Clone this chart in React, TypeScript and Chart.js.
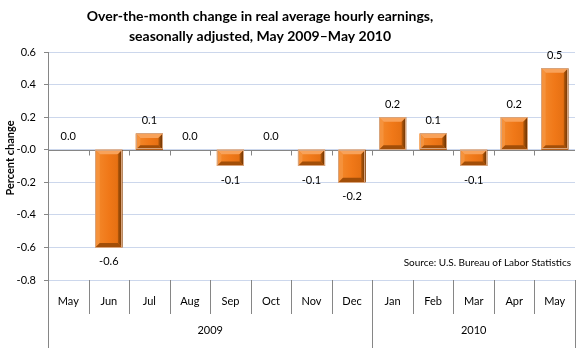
import React, { useEffect, useRef } from "react";
import { Chart, registerables } from "chart.js";

Chart.register(...registerables);

const months = ["May", "Jun", "Jul", "Aug", "Sep", "Oct", "Nov", "Dec", "Jan", "Feb", "Mar", "Apr", "May"];
const years = ["2009", "2010"];
const yearSpans = [8, 5];
const changes = [0.0, -0.6, 0.1, 0.0, -0.1, 0.0, -0.1, -0.2, 0.2, 0.1, -0.1, 0.2, 0.5];
const yMin = -0.8;
const yMax = 0.6;
const yStep = 0.2;
const titleLines = [
  "Over-the-month change in real average hourly earnings,",
  "seasonally adjusted, May 2009\u2013May 2010",
];
const yTitle = "Percent change";
const sourceText = "Source: U.S. Bureau of Labor Statistics";

const FONT = "Lato, 'Open Sans', sans-serif";

const decorPlugin = {
  id: "decor",
  beforeDatasetsDraw(chart: any) {
    const { ctx, chartArea } = chart;
    const ys = chart.scales.y;
    const xs = chart.scales.x;
    const y0 = Math.round(ys.getPixelForValue(0)) + 0.5;
    ctx.save();
    ctx.strokeStyle = "#868686";
    ctx.lineWidth = 1;
    ctx.beginPath();
    ctx.moveTo(chartArea.left, y0);
    ctx.lineTo(chartArea.right, y0);
    for (let i = 1; i < months.length; i++) {
      const bx = Math.round((xs.getPixelForValue(i - 1) + xs.getPixelForValue(i)) / 2) + 0.5;
      ctx.moveTo(bx, y0);
      ctx.lineTo(bx, y0 + 5);
    }
    ctx.stroke();
    ctx.restore();
  },
  afterDatasetsDraw(chart: any) {
    const { ctx } = chart;
    const meta = chart.getDatasetMeta(0);
    ctx.save();
    meta.data.forEach((bar: any) => {
      const p = bar.getProps(["x", "y", "base", "width"], true);
      const l = p.x - p.width / 2;
      const r = p.x + p.width / 2;
      const t = Math.min(p.y, p.base);
      const btm = Math.max(p.y, p.base);
      const h = btm - t;
      if (h < 1) return;
      const b = Math.min(4.5, h / 3);
      const face = ctx.createLinearGradient(l, 0, r, 0);
      face.addColorStop(0, "#F48A2C");
      face.addColorStop(0.5, "#F07818");
      face.addColorStop(1, "#E06C10");
      ctx.fillStyle = face;
      ctx.fillRect(l, t, r - l, h);
      ctx.fillStyle = "#F8A25A";
      ctx.beginPath();
      ctx.moveTo(l, t); ctx.lineTo(r, t); ctx.lineTo(r - b, t + b); ctx.lineTo(l + b, t + b);
      ctx.closePath(); ctx.fill();
      ctx.fillStyle = "#F5923C";
      ctx.beginPath();
      ctx.moveTo(l, t); ctx.lineTo(l + b, t + b); ctx.lineTo(l + b, btm - b); ctx.lineTo(l, btm);
      ctx.closePath(); ctx.fill();
      const rg = ctx.createLinearGradient(r - b, 0, r, 0);
      rg.addColorStop(0, "#B85A0A");
      rg.addColorStop(1, "#5E2E04");
      ctx.fillStyle = rg;
      ctx.beginPath();
      ctx.moveTo(r, t); ctx.lineTo(r, btm); ctx.lineTo(r - b, btm - b); ctx.lineTo(r - b, t + b);
      ctx.closePath(); ctx.fill();
      ctx.fillStyle = "#A24E08";
      ctx.beginPath();
      ctx.moveTo(l, btm); ctx.lineTo(r, btm); ctx.lineTo(r - b, btm - b); ctx.lineTo(l + b, btm - b);
      ctx.closePath(); ctx.fill();
      ctx.strokeStyle = "#D8A47C";
      ctx.lineWidth = 1;
      ctx.strokeRect(Math.round(l) + 0.5, Math.round(t) + 0.5, Math.round(r - l) - 1, Math.round(h) - 1);
    });
    ctx.restore();
  },
  afterDraw(chart: any) {
    const { ctx, chartArea } = chart;
    const xs = chart.scales.x;
    const meta = chart.getDatasetMeta(0);
    ctx.save();
    ctx.fillStyle = "#000";
    ctx.font = `11px ${FONT}`;
    ctx.textAlign = "center";
    ctx.textBaseline = "middle";
    meta.data.forEach((bar: any, i: number) => {
      const v = changes[i];
      const p = bar.getProps(["x", "y", "base"], true);
      const label = v.toFixed(1);
      if (v >= 0) ctx.fillText(label, p.x, Math.min(p.y, p.base) - 13);
      else ctx.fillText(label, p.x, Math.max(p.y, p.base) + 14);
    });
    ctx.font = `10px ${FONT}`;
    ctx.textAlign = "right";
    ctx.fillText(sourceText, chartArea.right - 4, 263);
    const top = chartArea.bottom;
    const bound = (i: number) => {
      if (i <= 0) return chartArea.left;
      if (i >= months.length) return chartArea.right;
      return (xs.getPixelForValue(i - 1) + xs.getPixelForValue(i)) / 2;
    };
    const yearBounds = [0];
    yearSpans.forEach((s) => yearBounds.push(yearBounds[yearBounds.length - 1] + s));
    ctx.strokeStyle = "#868686";
    ctx.lineWidth = 1;
    ctx.beginPath();
    for (let i = 0; i <= months.length; i++) {
      const x = Math.round(bound(i)) + 0.5;
      const long = yearBounds.includes(i);
      ctx.moveTo(x, top);
      ctx.lineTo(x, long ? 348 : 314);
    }
    ctx.stroke();
    ctx.font = `11px ${FONT}`;
    ctx.textAlign = "center";
    ctx.fillStyle = "#000";
    years.forEach((yr, k) => {
      const x = (bound(yearBounds[k]) + bound(yearBounds[k + 1])) / 2;
      ctx.fillText(yr, x, 330);
    });
    ctx.font = `bold 14px ${FONT}`;
    ctx.fillText(titleLines[0], 260, 16);
    ctx.fillText(titleLines[1], 260, 36);
    ctx.translate(10, 158);
    ctx.rotate(-Math.PI / 2);
    ctx.font = `bold 11px ${FONT}`;
    ctx.fillText(yTitle, 0, 0);
    ctx.restore();
  },
};

export default function App() {
  const ref = useRef<HTMLCanvasElement | null>(null);
  useEffect(() => {
    document.body.style.margin = "0";
    const canvas = ref.current;
    if (!canvas) return;
    const chart = new Chart(canvas, {
      type: "bar",
      data: {
        labels: months,
        datasets: [
          {
            data: changes,
            backgroundColor: "rgba(0,0,0,0)",
            barPercentage: 0.67,
            categoryPercentage: 1,
          },
        ],
      },
      options: {
        animation: false,
        responsive: false,
        devicePixelRatio: 1,
        layout: { padding: { top: 52, right: 5, left: 0, bottom: 0 } },
        plugins: {
          legend: { display: false },
          tooltip: { enabled: false },
          title: { display: false },
        },
        scales: {
          x: {
            grid: { display: false },
            border: { display: false },
            ticks: {
              padding: 7,
              color: "#000",
              font: { family: FONT, size: 11 },
              maxRotation: 0,
              autoSkip: false,
            },
            afterFit: (s: any) => {
              s.height = 80;
            },
          },
          y: {
            min: yMin,
            max: yMax,
            ticks: {
              stepSize: yStep,
              padding: 8,
              color: "#000",
              font: { family: FONT, size: 11 },
              callback: (v: any) => Number(v).toFixed(1),
            },
            grid: { color: "#CCD7EC", tickColor: "#868686", tickLength: 4 },
            border: { color: "#868686" },
            afterFit: (s: any) => {
              s.width = 48;
            },
          },
        },
      },
      plugins: [decorPlugin],
    });
    return () => chart.destroy();
  }, []);
  return <canvas ref={ref} width={580} height={360} style={{ display: "block" }} />;
}
